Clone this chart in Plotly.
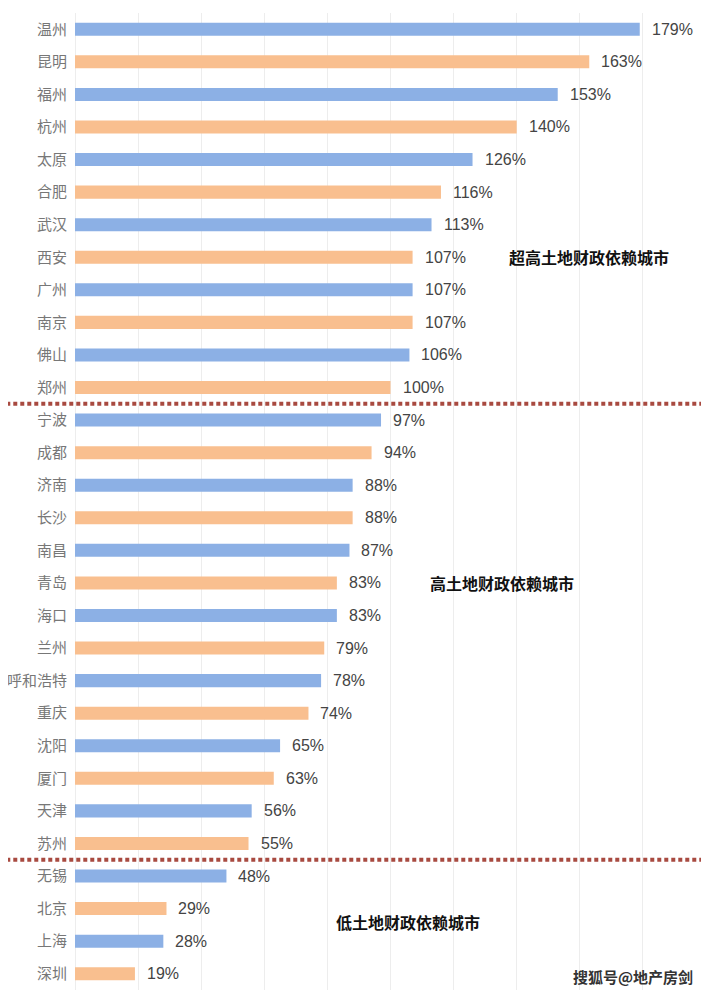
import plotly.graph_objects as go

# 城市 / 土地财政依赖度 (%)
cities = ['温州', '昆明', '福州', '杭州', '太原', '合肥', '武汉', '西安', '广州', '南京',
          '佛山', '郑州', '宁波', '成都', '济南', '长沙', '南昌', '青岛', '海口', '兰州',
          '呼和浩特', '重庆', '沈阳', '厦门', '天津', '苏州', '无锡', '北京', '上海', '深圳']
ratios = [179, 163, 153, 140, 126, 116, 113, 107, 107, 107,
          106, 100, 97, 94, 88, 88, 87, 83, 83, 79,
          78, 74, 65, 63, 56, 55, 48, 29, 28, 19]

group_labels = ['超高土地财政依赖城市', '高土地财政依赖城市', '低土地财政依赖城市']
group_breaks = [11.5, 25.5]  # between 郑州/宁波 and 苏州/无锡

BLUE = '#8cb0e5'
ORANGE = '#f9bf8f'
colors = [BLUE if i % 2 == 0 else ORANGE for i in range(len(cities))]

fig = go.Figure()
fig.add_trace(go.Bar(x=ratios,
                     y=list(range(len(cities))),
                     orientation='h',
                     width=0.4,
                     marker=dict(color=colors, line=dict(width=0)),
                     hoverinfo='skip'))

# value labels right of the bars
for i, v in enumerate(ratios):
    fig.add_annotation(x=v, y=i, text=f'{v}%', showarrow=False,
                       xanchor='left', xshift=10,
                       font=dict(family='Liberation Sans, Arial', size=16, color='#444444'))

# dotted dividers between groups
for b in group_breaks:
    fig.add_shape(type='line', xref='paper', yref='y',
                  x0=-0.12, x1=1.01, y0=b, y1=b,
                  line=dict(color='#a84a40', width=4, dash='4px,3px'))

# group names
group_pos = [(137, 7), (112, 17), (82, 27.4)]
for text, (gx, gy) in zip(group_labels, group_pos):
    fig.add_annotation(x=gx, y=gy, text=f'<b>{text}</b>', showarrow=False,
                       xanchor='left',
                       font=dict(family='Noto Sans CJK SC', size=16, color='#111111'))

# watermark
fig.add_annotation(xref='paper', yref='y', x=0.982, y=29.1, text='<b>搜狐号@地产房剑</b>',
                   showarrow=False, xanchor='right',
                   font=dict(family='Noto Sans CJK SC', size=15, color='#333333'))

fig.update_xaxes(range=[0, 200], dtick=20, showticklabels=False,
                 showgrid=True, gridcolor='#ededed', gridwidth=1,
                 zeroline=True, zerolinecolor='#ededed', zerolinewidth=1,
                 showline=False, fixedrange=True, automargin=False)
fig.update_yaxes(range=[len(cities) - 0.5, -0.5],
                 tickmode='array', tickvals=list(range(len(cities))), ticktext=cities,
                 tickfont=dict(family='Noto Sans CJK SC', size=15, color='#777777'),
                 ticks='', ticklabelstandoff=7, showgrid=False, zeroline=False, showline=False,
                 automargin=False)

# page body adds an 8px margin, so the figure is sized a bit smaller
fig.update_layout(width=701, height=992,
                  margin=dict(l=67, r=3, t=5, b=10),
                  plot_bgcolor='white', paper_bgcolor='white',
                  showlegend=False, bargap=0.6)

fig.write_html('out.html')
